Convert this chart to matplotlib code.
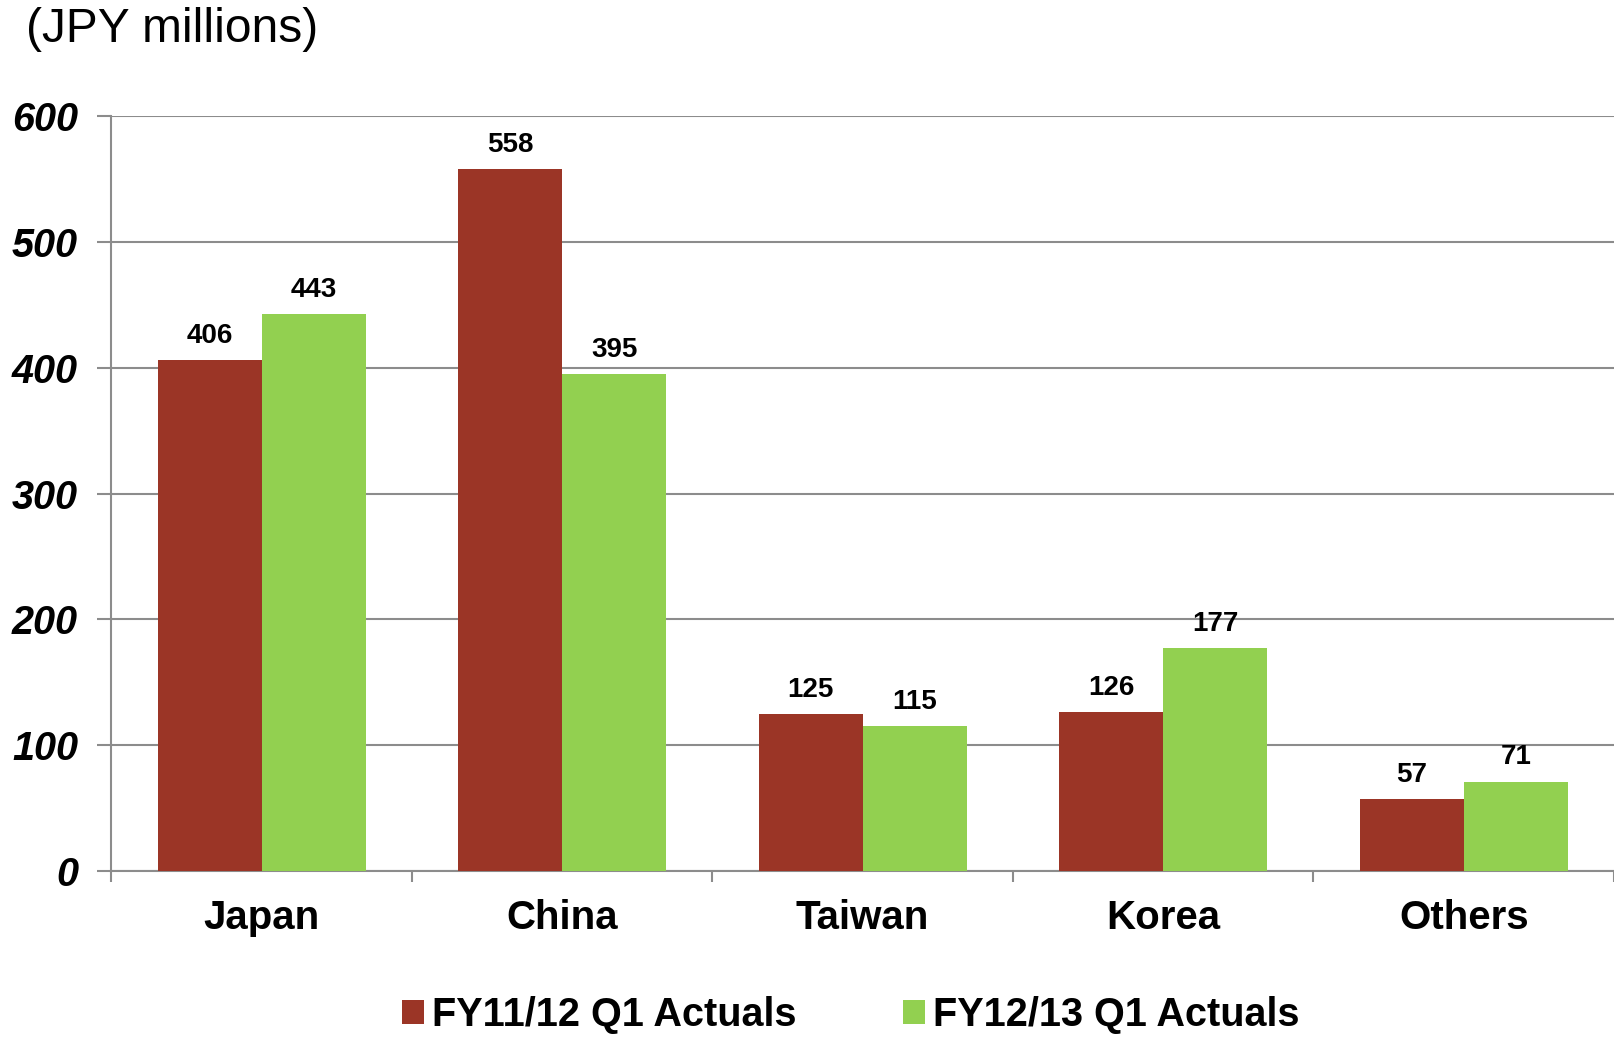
import matplotlib
matplotlib.use("Agg")
import matplotlib.pyplot as plt
import numpy as np

plt.rcParams['font.family'] = ['Liberation Sans', 'DejaVu Sans']

regions = ['Japan', 'China', 'Taiwan', 'Korea', 'Others']
fy11 = [406, 558, 125, 126, 57]
fy12 = [443, 395, 115, 177, 71]
series_names = ['FY11/12 Q1 Actuals', 'FY12/13 Q1 Actuals']
yticks = [0, 100, 200, 300, 400, 500, 600]

red = '#9b3526'
green = '#92d050'
grid_col = '#8c8c8c'

fig = plt.figure(figsize=(16.14, 10.38), dpi=100)
ax = fig.add_axes([0.069, 0.161, 0.931, 0.727])

x = np.arange(len(regions))
w = 0.346
b1 = ax.bar(x - w/2, fy11, w, color=red, label=series_names[0], zorder=3)
b2 = ax.bar(x + w/2, fy12, w, color=green, label=series_names[1], zorder=3)

for bars, vals in [(b1, fy11), (b2, fy12)]:
    for r, v in zip(bars, vals):
        ax.annotate(str(v), (r.get_x() + r.get_width()/2, v), xytext=(0, 8),
                    textcoords='offset points', ha='center', va='bottom',
                    fontsize=20, fontweight='bold')

ax.set_xlim(-0.5, len(regions) - 0.5)
ax.set_ylim(0, 600)
ax.set_yticks(yticks)
ax.set_yticklabels([str(t) for t in yticks], fontsize=28.5, fontweight='bold', fontstyle='italic')
ax.yaxis.grid(True, color=grid_col, linewidth=1.5, zorder=0)
ax.set_axisbelow(True)

# category labels sit between the boundary ticks
ax.set_xticks(np.arange(-0.5, len(regions)))
ax.set_xticklabels([])
ax.set_xticks(x, minor=True)
ax.set_xticklabels(regions, minor=True, fontsize=29, fontweight='bold')
ax.tick_params(axis='x', which='major', length=8, width=1.5, color=grid_col, direction='out')
ax.tick_params(axis='x', which='minor', length=0, pad=20)
ax.tick_params(axis='y', length=10, width=1.5, color=grid_col, pad=14)

for s in ['top', 'right']:
    ax.spines[s].set_visible(False)
for s in ['left', 'bottom']:
    ax.spines[s].set_color(grid_col)
    ax.spines[s].set_linewidth(1.5)

fig.text(0.016, 0.972, '(JPY millions)', fontsize=34.5, va='center', ha='left')

fig.legend(handles=[b1, b2], loc='upper center', bbox_to_anchor=(0.527, 0.075),
           ncol=2, frameon=False, prop={'size': 28.5, 'weight': 'bold'},
           handlelength=0.55, handleheight=0.55, handletextpad=0.2, columnspacing=2.7)

fig.savefig('out.png', dpi=100)
